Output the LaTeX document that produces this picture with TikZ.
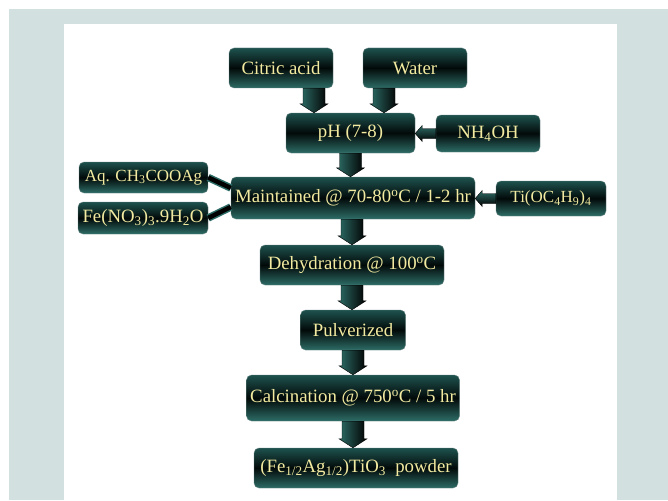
\documentclass[tikz,border=0pt]{standalone}
\usepackage{fontspec}
\setmainfont{Liberation Serif}
\usetikzlibrary{calc}
\definecolor{bgpanel}{RGB}{210,224,223}
\definecolor{boxtop}{RGB}{30,82,78}
\definecolor{boxmid}{RGB}{2,10,9}
\definecolor{boxbot}{RGB}{45,108,102}
\definecolor{boxedge}{RGB}{105,135,132}
\definecolor{boxtext}{RGB}{242,234,160}
\newcommand{\chsub}[1]{\textsubscript{#1}}
\newcommand{\degC}{\textsuperscript{o}C}
\tikzset{
  fbox/.style={draw=boxedge,thin,rounded corners=5pt,top color=boxtop,bottom color=boxbot,middle color=boxmid,
               text=boxtext,font=\fontsize{18.8}{20}\selectfont,minimum height=40pt,inner sep=2pt},
  fboxS/.style={fbox,font=\fontsize{17}{18}\selectfont},
  varr/.style={left color=boxbot,right color=black,draw=black,thin},
  harr/.style={top color=boxbot,bottom color=black,draw=black,thin},
  feed/.style={draw=boxbot,line width=1.5pt,double=black,double distance=4.5pt},
}
\newcommand{\blockdown}[3]{% #1 = from anchor, #2 = to anchor, #3 = x shift
  \path[varr] let \p1=([xshift=#3]#1), \p2=(#2) in
    (\x1-11pt,\y1) -- (\x1+11pt,\y1) -- (\x1+11pt,\y2+9pt) -- (\x1+14pt,\y2+9pt)
    -- (\x1,\y2) -- (\x1-14pt,\y2+9pt) -- (\x1-11pt,\y2+9pt) -- cycle;}
\newcommand{\blockleft}[2]{% #1 = from anchor, #2 = to anchor (leftwards)
  \path[harr] let \p1=(#1), \p2=(#2) in
    (\x1,\y1+5pt) -- (\x2+7pt,\y1+5pt) -- (\x2+7pt,\y1+8pt) -- (\x2,\y1)
    -- (\x2+7pt,\y1-8pt) -- (\x2+7pt,\y1-5pt) -- (\x1,\y1-5pt) -- cycle;}
\begin{document}
\begin{tikzpicture}[x=1pt,y=-1pt]
% panel
\useasboundingbox (0,0) rectangle (668,500);
\fill[bgpanel] (9,9) rectangle (668,500);
\fill[white] (64,24) rectangle (617,500);
% boxes
\node[fbox,minimum width=104pt] (cit) at (281,68) {Citric acid};
\node[fbox,minimum width=104pt] (wat) at (415,68) {Water};
\node[fbox,minimum width=129pt] (ph) at (350.5,133) {pH (7-8)};
\node[fbox,minimum width=104pt,minimum height=37pt] (nh) at (488,133.5) {NH\chsub{4}OH};
\node[fboxS,minimum width=129pt,minimum height=31pt] (aq) at (143.5,177.5) {Aq. CH\chsub{3}COOAg};
\node[fbox,minimum width=130pt,minimum height=32pt] (fe) at (143,218) {Fe(NO\chsub{3})\chsub{3}.9H\chsub{2}O};
\node[fbox,minimum width=244pt,minimum height=42pt] (mnt) at (353,198) {Maintained @ 70-80\degC{} / 1-2 hr};
\node[fboxS,minimum width=110pt,minimum height=35pt] (ti) at (551,198.5) {Ti(OC\chsub{4}H\chsub{9})\chsub{4}};
\node[fbox,minimum width=184pt] (deh) at (352,265) {Dehydration @ 100\degC};
\node[fbox,minimum width=105pt] (pul) at (353,330) {Pulverized};
\node[fbox,minimum width=213pt,minimum height=46pt] (cal) at (353,398) {Calcination @ 750\degC{} / 5 hr};
\node[fbox,minimum width=204pt] (pow) at (356,468) {(Fe\chsub{1/2}Ag\chsub{1/2})TiO\chsub{3}\ \ powder};
% feeds
\draw[feed] (aq.east) -- ([yshift=10pt]mnt.west);
\draw[feed] (fe.east) -- ([yshift=-9pt]mnt.west);
% block arrows
\blockdown{cit.south}{ph.north}{33pt}
\blockdown{wat.south}{ph.north}{-31pt}
\blockleft{nh.west}{ph.east}
\blockdown{ph.south}{mnt.north}{0pt}
\blockleft{ti.west}{mnt.east}
\blockdown{mnt.south}{deh.north}{-1pt}
\blockdown{deh.south}{pul.north}{0pt}
\blockdown{pul.south}{cal.north}{0pt}
\blockdown{cal.south}{pow.north}{0pt}
\end{tikzpicture}
\end{document}
